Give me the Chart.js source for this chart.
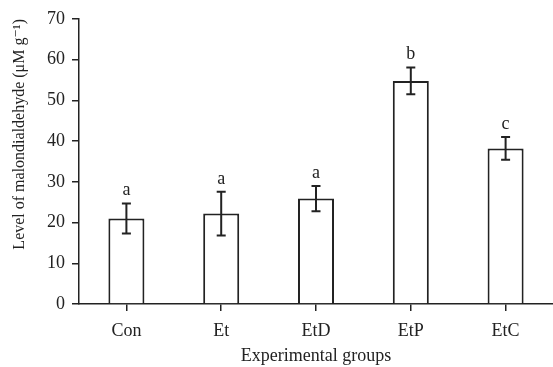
<!DOCTYPE html>
<html>
<head>
<meta charset="utf-8">
<script src="https://cdn.jsdelivr.net/npm/chart.js@4.4.1/dist/chart.umd.min.js"></script>
<style>
  html, body { margin: 0; padding: 0; background: #fff; }
  #wrap { width: 553px; height: 367px; }
</style>
</head>
<body>
<div id="wrap"><canvas id="mdaChart"></canvas></div>
<script>
const groups = ['Con', 'Et', 'EtD', 'EtP', 'EtC'];
const mdaMeans = [21.0, 22.2, 25.9, 54.8, 38.2];
const mdaErrors = [3.7, 5.4, 3.1, 3.3, 2.8];
const sigLetters = ['a', 'a', 'a', 'b', 'c'];
const yTicks = [0, 10, 20, 30, 40, 50, 60, 70];

const serif = "'Liberation Serif', 'DejaVu Serif', serif";

// error bars + significance letters
const errorBarPlugin = {
  id: 'errorBars',
  afterDatasetsDraw(chart) {
    const ctx = chart.ctx;
    const meta = chart.getDatasetMeta(0);
    const y = chart.scales.y;
    ctx.save();
    ctx.strokeStyle = '#222';
    ctx.lineWidth = 2;
    meta.data.forEach((bar, i) => {
      const x = bar.x;
      const top = y.getPixelForValue(mdaMeans[i] + mdaErrors[i]);
      const bot = y.getPixelForValue(mdaMeans[i] - mdaErrors[i]);
      const cap = 4.5;
      ctx.beginPath();
      ctx.moveTo(x, top); ctx.lineTo(x, bot);
      ctx.moveTo(x - cap, top); ctx.lineTo(x + cap, top);
      ctx.moveTo(x - cap, bot); ctx.lineTo(x + cap, bot);
      ctx.stroke();
      ctx.fillStyle = '#222';
      ctx.font = '18px ' + serif;
      ctx.textAlign = 'center';
      ctx.textBaseline = 'alphabetic';
      ctx.fillText(sigLetters[i], x, top - 8);
    });
    ctx.restore();
  }
};

new Chart(document.getElementById('mdaChart'), {
  type: 'bar',
  data: {
    labels: groups,
    datasets: [{
      data: mdaMeans,
      backgroundColor: '#fff',
      borderColor: '#222',
      borderWidth: 2,
      barPercentage: 0.38,
      categoryPercentage: 1
    }]
  },
  options: {
    responsive: true,
    maintainAspectRatio: false,
    animation: false,
    layout: { padding: { top: 19, right: 0, left: 0, bottom: 0 } },
    plugins: { legend: { display: false }, tooltip: { enabled: false } },
    scales: {
      x: {
        offset: true,
        grid: { drawOnChartArea: false, offset: false, tickLength: 7, color: '#222', lineWidth: 1.5 },
        border: { color: '#222', width: 1.5 },
        ticks: { color: '#222', font: { family: serif, size: 18 }, padding: 9 },
        title: { display: true, text: 'Experimental groups', color: '#222', font: { family: serif, size: 18 }, padding: { top: 0, bottom: 0 } },
        afterFit(scale) { scale.height = 63; }
      },
      y: {
        min: 0,
        max: 70,
        afterBuildTicks(scale) { scale.ticks = yTicks.map(v => ({ value: v })); },
        grid: { drawOnChartArea: false, tickLength: 7, color: '#222', lineWidth: 1.5 },
        border: { color: '#222', width: 1.5 },
        ticks: { color: '#222', font: { family: serif, size: 18 }, padding: 7 },
        title: { display: true, align: 'end', text: 'Level of malondialdehyde (μM g⁻¹)', color: '#222', font: { family: serif, size: 16 }, padding: { top: 10, bottom: 0 } },
        afterFit(scale) { scale.width = 79; }
      }
    }
  },
  plugins: [errorBarPlugin]
});
</script>
</body>
</html>
